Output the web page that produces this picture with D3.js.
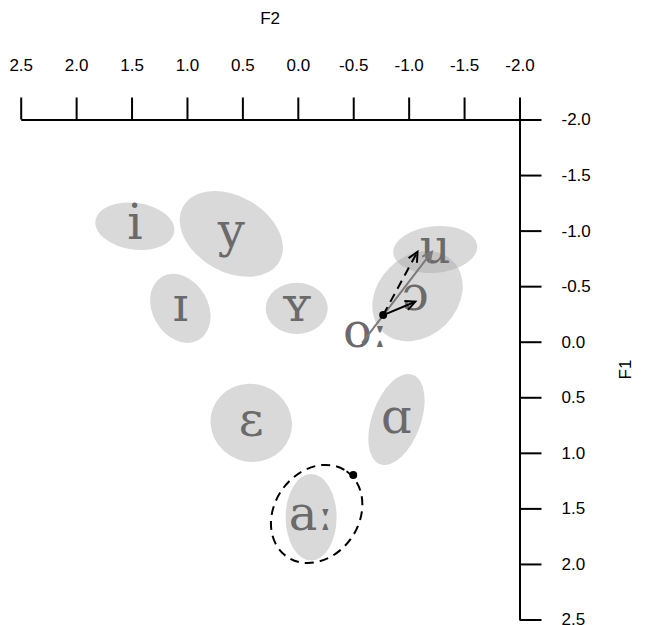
<!DOCTYPE html>
<html>
<head>
<meta charset="utf-8">
<script src="https://cdn.jsdelivr.net/npm/d3@7"></script>
<style>
  body { margin: 0; background: #fff; }
  svg { display: block; }
  .axis text { font-family: "Liberation Sans", Arial, sans-serif; font-size: 17px; fill: #000; }
  .axis path, .axis line { stroke: #000; stroke-width: 2; }
  .title { font-family: "Liberation Sans", Arial, sans-serif; font-size: 17px; }
  .vowel { font-family: "DejaVu Serif", serif; font-size: 48px; fill: #6a6a6a; }
</style>
</head>
<body>
<svg id="chart" width="654" height="625"></svg>
<script>
// tick values for both axes
const f2Ticks = [2.5, 2.0, 1.5, 1.0, 0.5, 0.0, -0.5, -1.0, -1.5, -2.0];
const f1Ticks = [-2.0, -1.5, -1.0, -0.5, 0.0, 0.5, 1.0, 1.5, 2.0, 2.5];

// vowel label positions (F2, F1)
const vowelLabels = ["i", "y", "ɪ", "ʏ", "u", "ɔ", "oː", "ɛ", "ɑ", "aː"];
const labelF2 = [1.47, 0.60, 1.06, 0.01, -1.24, -1.06, -0.61, 0.42, -0.89, -0.12];
const labelF1 = [-1.04, -0.97, -0.30, -0.30, -0.83, -0.40, -0.07, 0.73, 0.70, 1.58];

// spread ellipses: centre, radii (in z units), rotation in degrees
const ellVowels = ["i", "y", "ɪ", "ʏ", "u", "ɔ", "ɛ", "ɑ", "aː"];
const ellF2 = [1.47, 0.60, 1.06, 0.01, -1.24, -1.08, 0.42, -0.89, -0.12];
const ellF1 = [-1.04, -0.97, -0.30, -0.30, -0.83, -0.41, 0.73, 0.70, 1.58];
const ellRx = [0.36, 0.50, 0.33, 0.28, 0.38, 0.45, 0.37, 0.43, 0.23];
const ellRy = [0.21, 0.34, 0.25, 0.23, 0.21, 0.36, 0.35, 0.22, 0.39];
const ellAngle = [8, 30, 60, 0, -5, -45, 20, -70, 0];

// dashed trajectory ellipse around aː, with its start dot
const trajEll = { f2: -0.17, f1: 1.55, rx: 0.47, ry: 0.38, angle: -55 };
const trajDot = [-0.50, 1.20];

// arrows: [fromF2, fromF1, toF2, toF1]
const grayArrow = [-0.58, 0.01, -1.21, -0.81];
const startDot = [-0.77, -0.24];
const dashedArrow = [-0.77, -0.24, -1.08, -0.81];
const solidArrow = [-0.77, -0.24, -1.06, -0.36];

const svg = d3.select("#chart");

const x = d3.scaleLinear().domain([2.5, -2.0]).range([20.7, 519.5]);
const y = d3.scaleLinear().domain([-2.0, 2.5]).range([119.5, 619.5]);
const kx = Math.abs(x(1) - x(0));
const ky = Math.abs(y(1) - y(0));

// ── Ellipses ──
const ellData = ellVowels.map((v, i) => ({
  v, f2: ellF2[i], f1: ellF1[i], rx: ellRx[i], ry: ellRy[i], a: ellAngle[i]
}));

svg.append("g").selectAll("ellipse")
  .data(ellData)
  .join("ellipse")
  .attr("cx", 0).attr("cy", 0)
  .attr("rx", d => d.rx * kx)
  .attr("ry", d => d.ry * ky)
  .attr("transform", d => `translate(${x(d.f2)},${y(d.f1)}) rotate(${d.a})`)
  .attr("fill", "rgb(165,165,165)")
  .attr("fill-opacity", 0.42);

// ── Labels ──
svg.append("g").selectAll("text")
  .data(vowelLabels.map((v, i) => ({ v, f2: labelF2[i], f1: labelF1[i] })))
  .join("text")
  .attr("class", "vowel")
  .attr("x", d => x(d.f2))
  .attr("y", d => y(d.f1) + 13)
  .attr("text-anchor", "middle")
  .text(d => d.v);

// ── Dashed trajectory around aː ──
svg.append("ellipse")
  .attr("cx", 0).attr("cy", 0)
  .attr("rx", trajEll.rx * kx)
  .attr("ry", trajEll.ry * ky)
  .attr("transform", `translate(${x(trajEll.f2)},${y(trajEll.f1)}) rotate(${trajEll.angle})`)
  .attr("fill", "none")
  .attr("stroke", "#000")
  .attr("stroke-width", 2)
  .attr("stroke-dasharray", "9,6");

svg.append("circle")
  .attr("cx", x(trajDot[0])).attr("cy", y(trajDot[1]))
  .attr("r", 4).attr("fill", "#000");

// ── Arrows ──
function arrow(a, color, width, dash) {
  const x1 = x(a[0]), y1 = y(a[1]), x2 = x(a[2]), y2 = y(a[3]);
  const ang = Math.atan2(y2 - y1, x2 - x1);
  const len = 11, spread = Math.PI / 7;
  const g = svg.append("g");
  const line = g.append("line")
    .attr("x1", x1).attr("y1", y1).attr("x2", x2).attr("y2", y2)
    .attr("stroke", color).attr("stroke-width", width);
  if (dash) line.attr("stroke-dasharray", dash);
  g.append("path")
    .attr("d", `M${x2 - len * Math.cos(ang - spread)},${y2 - len * Math.sin(ang - spread)}` +
               `L${x2},${y2}` +
               `L${x2 - len * Math.cos(ang + spread)},${y2 - len * Math.sin(ang + spread)}`)
    .attr("stroke", color).attr("stroke-width", width).attr("fill", "none");
}

arrow(grayArrow, "#7a7a7a", 2);
arrow(dashedArrow, "#000", 2, "9,6");
arrow(solidArrow, "#000", 2);

svg.append("circle")
  .attr("cx", x(startDot[0])).attr("cy", y(startDot[1]))
  .attr("r", 4).attr("fill", "#000");

// ── Axes ──
const fmt = d => d.toFixed(1);

svg.append("g")
  .attr("class", "axis")
  .attr("transform", `translate(0,${y(-2.0)})`)
  .call(d3.axisTop(x).tickValues(f2Ticks).tickFormat(fmt)
    .tickSize(22).tickSizeOuter(0).tickPadding(27));

svg.append("g")
  .attr("class", "axis")
  .attr("transform", `translate(${x(-2.0)},0)`)
  .call(d3.axisRight(y).tickValues(f1Ticks).tickFormat(fmt)
    .tickSize(22).tickSizeOuter(0).tickPadding(20));

svg.append("text")
  .attr("class", "title")
  .attr("x", (x(2.5) + x(-2.0)) / 2)
  .attr("y", 24)
  .attr("text-anchor", "middle")
  .text("F2");

svg.append("text")
  .attr("class", "title")
  .attr("transform", `translate(631,${(y(-2.0) + y(2.5)) / 2}) rotate(-90)`)
  .attr("text-anchor", "middle")
  .text("F1");
</script>
</body>
</html>
